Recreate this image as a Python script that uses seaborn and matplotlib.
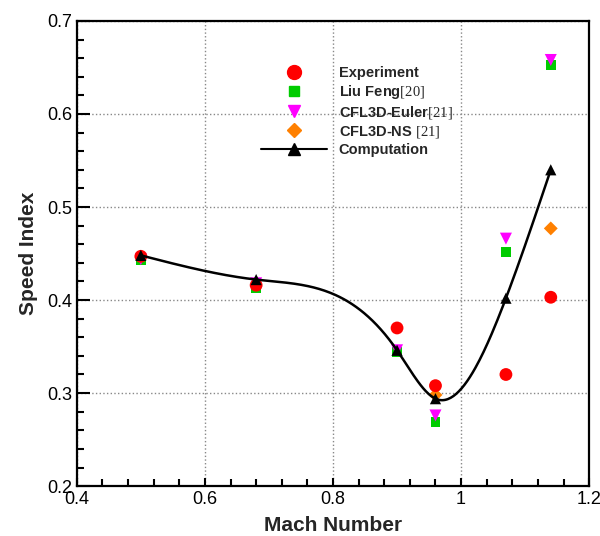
import matplotlib.pyplot as plt
import numpy as np
import seaborn as sns
from matplotlib.lines import Line2D
from matplotlib.ticker import MultipleLocator

# Data
mach = [0.5, 0.68, 0.9, 0.96, 1.07, 1.14]
experiment = [0.447, 0.416, 0.370, 0.308, 0.320, 0.403]
liu_feng = [0.443, 0.413, 0.344, 0.269, 0.452, 0.653]
cfl3d_euler = [0.444, 0.418, 0.346, 0.276, 0.466, 0.658]
cfl3d_ns_mach = [0.96, 1.14]
cfl3d_ns = [0.298, 0.477]
computation = [0.448, 0.422, 0.346, 0.294, 0.402, 0.540]


def natural_spline(x, y, num=300):
    """Smooth curve through the points (natural cubic spline), used only to draw the line."""
    x = np.asarray(x, float)
    y = np.asarray(y, float)
    n = len(x)
    h = np.diff(x)
    a = np.zeros((n, n))
    b = np.zeros(n)
    a[0, 0] = a[-1, -1] = 1.0
    for i in range(1, n - 1):
        a[i, i - 1] = h[i - 1]
        a[i, i] = 2 * (h[i - 1] + h[i])
        a[i, i + 1] = h[i]
        b[i] = 3 * ((y[i + 1] - y[i]) / h[i] - (y[i] - y[i - 1]) / h[i - 1])
    c = np.linalg.solve(a, b)
    xs = np.linspace(x[0], x[-1], num)
    idx = np.clip(np.searchsorted(x, xs) - 1, 0, n - 2)
    dx = xs - x[idx]
    bb = (y[idx + 1] - y[idx]) / h[idx] - h[idx] * (2 * c[idx] + c[idx + 1]) / 3
    dd = (c[idx + 1] - c[idx]) / (3 * h[idx])
    ys = y[idx] + bb * dx + c[idx] * dx ** 2 + dd * dx ** 3
    return xs, ys


sns.set_theme(style="ticks")
plt.rcParams['font.family'] = ['Liberation Sans', 'DejaVu Sans']
plt.rcParams['mathtext.fontset'] = 'custom'
plt.rcParams['mathtext.rm'] = 'Liberation Serif'

fig = plt.figure(figsize=(6.0, 5.36), dpi=100)
ax = fig.add_axes([0.128, 0.093, 0.854, 0.868])

# Scatter series (drawn so that the overlaps look like the reference)
sns.scatterplot(x=mach, y=liu_feng, marker='s', s=50, color='#00cc00', edgecolor='none', ax=ax, zorder=3)
sns.scatterplot(x=mach, y=cfl3d_euler, marker='v', s=75, color='#ff00ff', edgecolor='none', ax=ax, zorder=4)
sns.scatterplot(x=cfl3d_ns_mach, y=cfl3d_ns, marker='D', s=50, color='#ff8000', edgecolor='none', ax=ax, zorder=5)
sns.scatterplot(x=mach, y=experiment, marker='o', s=85, color='#ff0000', edgecolor='none', ax=ax, zorder=6)

# Computation: smooth curve with triangle markers
curve_x, curve_y = natural_spline(mach, computation)
sns.lineplot(x=curve_x, y=curve_y, color='black', linewidth=1.8, ax=ax, zorder=7)
sns.scatterplot(x=mach, y=computation, marker='^', s=65, color='black', edgecolor='none', ax=ax, zorder=8)

ax.set_xlim(0.4, 1.2)
ax.set_ylim(0.2, 0.7)
ax.xaxis.set_major_locator(MultipleLocator(0.2))
ax.xaxis.set_minor_locator(MultipleLocator(0.04))
ax.yaxis.set_major_locator(MultipleLocator(0.1))
ax.yaxis.set_minor_locator(MultipleLocator(0.02))
ax.set_xticks([0.4, 0.6, 0.8, 1.0, 1.2], ['0.4', '0.6', '0.8', '1', '1.2'])

ax.grid(True, which='major', color='#888888', linestyle=':', linewidth=1.0)
ax.tick_params(axis='both', which='both', direction='in', colors='black', labelsize=13, width=1.5)
ax.tick_params(axis='y', which='major', length=9)
ax.tick_params(axis='y', which='minor', length=5)
ax.tick_params(axis='x', which='major', length=6)
ax.tick_params(axis='x', which='minor', length=5)
for spine in ax.spines.values():
    spine.set_color('black')
    spine.set_linewidth(1.6)

ax.set_xlabel('Mach Number', fontsize=15, fontweight='bold', labelpad=6)
ax.set_ylabel('Speed Index', fontsize=15, fontweight='bold', labelpad=6)

# Legend
handles = [
    Line2D([], [], marker='o', linestyle='none', color='#ff0000', markersize=10),
    Line2D([], [], marker='s', linestyle='none', color='#00cc00', markersize=7.5),
    Line2D([], [], marker='v', linestyle='none', color='#ff00ff', markersize=9),
    Line2D([], [], marker='D', linestyle='none', color='#ff8000', markersize=7),
    Line2D([], [], marker='^', linestyle='-', color='black', markersize=8, linewidth=1.5),
]
labels = ['Experiment', r'Liu Feng$\mathrm{[20]}$', r'CFL3D-Euler$\mathrm{[21]}$',
          r'CFL3D-NS $\mathrm{[21]}$', 'Computation']
ax.legend(handles, labels, loc='upper left', bbox_to_anchor=(0.36, 0.903), frameon=False,
          borderaxespad=0, borderpad=0, handlelength=4.5, handletextpad=0.8, labelspacing=0.2,
          prop={'size': 10.5, 'weight': 'bold'})

fig.savefig('out.png', dpi=100)
